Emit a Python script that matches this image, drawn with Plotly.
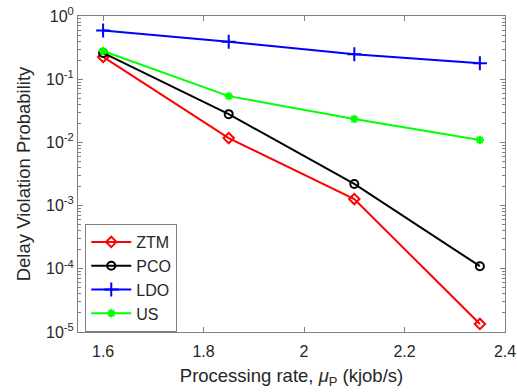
import plotly.graph_objects as go

# Processing rate (kjob/s)
rates = [1.6, 1.85, 2.1, 2.35]

# Delay violation probability per scheme
ztm = [0.225, 0.0117, 0.00127, 1.34e-5]
pco = [0.26, 0.028, 0.0022, 1.1e-4]
ldo = [0.59, 0.39, 0.248, 0.178]
us = [0.28, 0.054, 0.0235, 0.0109]

series = [
    ("ZTM", ztm, "#ff0000", "diamond-open", 8),
    ("PCO", pco, "#000000", "circle-open", 8),
    ("LDO", ldo, "#0000ff", "cross-thin-open", 10),
    ("US", us, "#00ff00", "asterisk-open", 7),
]

x_ticks = [1.6, 1.8, 2.0, 2.2, 2.4]
x_tick_text = ["1.6", "1.8", "2", "2.2", "2.4"]
y_decades = [-5, -4, -3, -2, -1, 0]
y_ticks = [10.0 ** d for d in y_decades]
y_tick_text = [f"10<sup>{d}</sup>" for d in y_decades]
# minor log ticks at 2..9 within each decade
y_minor = [m * 10.0 ** d for d in y_decades[:-1] for m in range(2, 10)]

FONT = "Liberation Sans, Arial"
TXT = "#262626"
AX = "#808080"

fig = go.Figure()
for name, vals, color, symbol, size in series:
    fig.add_trace(go.Scatter(
        x=rates, y=vals, name=name, mode="lines+markers",
        line=dict(color=color, width=2),
        marker=dict(symbol=symbol, size=size, color=color,
                    line=dict(color=color, width=2)),
    ))

axis_common = dict(
    showline=True, linecolor=AX, linewidth=1, mirror="ticks",
    ticks="inside", tickcolor=AX, showgrid=False, zeroline=False,
    tickfont=dict(family=FONT, size=16, color=TXT), automargin=False,
)

fig.update_xaxes(
    range=[1.55, 2.4], tickvals=x_ticks, ticktext=x_tick_text, ticklen=5,
    ticklabelstandoff=5,
    title=dict(text="Processing rate, <i>μ</i><sub>P</sub> (kjob/s)",
               font=dict(family=FONT, size=18.5, color=TXT),
               standoff=9),
    **axis_common,
)
fig.update_yaxes(
    type="log", range=[-5, 0], tickvals=y_ticks, ticktext=y_tick_text, ticklen=5,
    minor=dict(ticks="inside", ticklen=3, tickcolor=AX, tickmode="array",
               tickvals=y_minor, showgrid=False),
    title=dict(text="Delay Violation Probability",
               font=dict(family=FONT, size=18.5, color=TXT),
               standoff=10),
    **axis_common,
)

fig.update_layout(
    width=517, height=392,
    margin=dict(l=78, r=12, t=16, b=60),
    paper_bgcolor="white", plot_bgcolor="white",
    showlegend=True,
    legend=dict(
        x=0.017, y=0.0, xanchor="left", yanchor="bottom",
        bgcolor="white", bordercolor=AX, borderwidth=1,
        font=dict(family=FONT, size=16, color=TXT),
        itemwidth=40, tracegroupgap=0,
    ),
)

fig.write_html("out.html")
